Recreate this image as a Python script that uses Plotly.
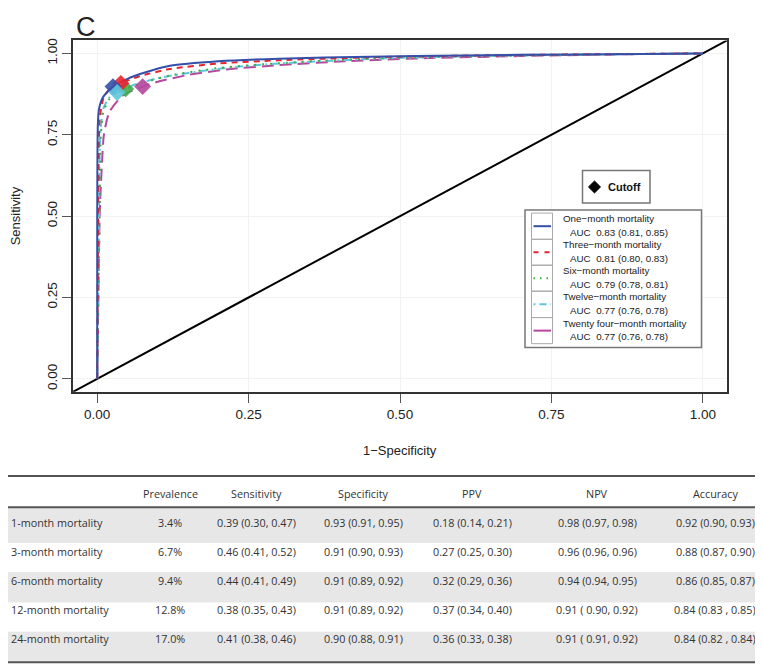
import plotly.graph_objects as go

# ---------------- data ----------------
series_names = ["One\u2212month mortality", "Three\u2212month mortality", "Six\u2212month mortality",
                "Twelve\u2212month mortality", "Twenty four\u2212month mortality"]
auc_labels = ["AUC  0.83 (0.81, 0.85)", "AUC  0.81 (0.80, 0.83)", "AUC  0.79 (0.78, 0.81)",
              "AUC  0.77 (0.76, 0.78)", "AUC  0.77 (0.76, 0.78)"]

fpr_1m = [0, 0.0, 0.001, 0.003, 0.010, 0.026, 0.050, 0.080, 0.120, 0.200, 0.300, 0.450, 0.600, 0.800, 1.0]
tpr_1m = [0, 0.50, 0.780, 0.830, 0.867, 0.898, 0.922, 0.942, 0.962, 0.976, 0.984, 0.990, 0.994, 0.997, 1.0]

fpr_3m = [0, 0.002, 0.004, 0.010, 0.020, 0.039, 0.070, 0.120, 0.200, 0.300, 0.450, 0.600, 0.800, 1.0]
tpr_3m = [0, 0.600, 0.800, 0.860, 0.890, 0.908, 0.930, 0.952, 0.969, 0.979, 0.988, 0.993, 0.997, 1.0]

fpr_6m = [0, 0.004, 0.006, 0.010, 0.020, 0.030, 0.047, 0.080, 0.120, 0.200, 0.300, 0.450, 0.600, 0.800, 1.0]
tpr_6m = [0, 0.500, 0.750, 0.820, 0.860, 0.878, 0.891, 0.912, 0.932, 0.955, 0.970, 0.984, 0.991, 0.997, 1.0]

fpr_12m = [0, 0.003, 0.005, 0.010, 0.020, 0.033, 0.060, 0.100, 0.150, 0.220, 0.300, 0.450, 0.600, 0.800, 1.0]
tpr_12m = [0, 0.500, 0.750, 0.830, 0.865, 0.880, 0.903, 0.924, 0.940, 0.957, 0.969, 0.983, 0.991, 0.996, 1.0]

fpr_24m = [0, 0.002, 0.004, 0.008, 0.011, 0.020, 0.043, 0.075, 0.100, 0.150, 0.220, 0.300, 0.400, 0.550, 0.700, 0.850, 1.0]
tpr_24m = [0, 0.260, 0.500, 0.668, 0.750, 0.820, 0.872, 0.898, 0.913, 0.934, 0.952, 0.964, 0.975, 0.986, 0.992, 0.997, 1.0]

cutoff_fpr = [0.026, 0.039, 0.047, 0.033, 0.075]
cutoff_tpr = [0.898, 0.908, 0.891, 0.880, 0.898]

x_ticks = [0, 0.25, 0.5, 0.75, 1.0]
y_ticks = [0, 0.25, 0.5, 0.75, 1.0]

table_header = ["", "Prevalence", "Sensitivity", "Specificity", "PPV", "NPV", "Accuracy"]
row_labels = ["1-month mortality", "3-month mortality", "6-month mortality", "12-month mortality", "24-month mortality"]
prevalence = ["3.4%", "6.7%", "9.4%", "12.8%", "17.0%"]
sensitivity = ["0.39 (0.30, 0.47)", "0.46 (0.41, 0.52)", "0.44 (0.41, 0.49)", "0.38 (0.35, 0.43)", "0.41 (0.38, 0.46)"]
specificity = ["0.93 (0.91, 0.95)", "0.91 (0.90, 0.93)", "0.91 (0.89, 0.92)", "0.91 (0.89, 0.92)", "0.90 (0.88, 0.91)"]
ppv = ["0.18 (0.14, 0.21)", "0.27 (0.25, 0.30)", "0.32 (0.29, 0.36)", "0.37 (0.34, 0.40)", "0.36 (0.33, 0.38)"]
npv = ["0.98 (0.97, 0.98)", "0.96 (0.96, 0.96)", "0.94 (0.94, 0.95)", "0.91 ( 0.90, 0.92)", "0.91 ( 0.91, 0.92)"]
accuracy = ["0.92 (0.90, 0.93)", "0.88 (0.87, 0.90)", "0.86 (0.85, 0.87)", "0.84 (0.83 , 0.85)", "0.84 (0.82 , 0.84)"]

# ---------------- styles ----------------
colors = ["#3450a8", "#e8232b", "#3fae4a", "#5fc6dc", "#b5479d"]
dashes = ["solid", "6px,5px", "2px,6px", "8px,4px,2px,4px", "12px,6px"]
legend_dashes = ["solid", "5px,6px", "1.5px,5px", "2px,4px,7px,4px", "solid"]

# the page body has an 8px margin: the figure sits at (8, 8) in the window
OX, OY = 8, 8
W, H = 763 - OX, 668 - OY


def px(x):
    return (x - OX) / W


def py(y):
    return 1 - (y - OY) / H


fig = go.Figure()

# diagonal reference line
fig.add_trace(go.Scatter(x=[-0.04, 1.04], y=[-0.04, 1.04], mode="lines",
                         line=dict(color="black", width=2), hoverinfo="skip", showlegend=False))

curves = [(fpr_1m, tpr_1m), (fpr_3m, tpr_3m), (fpr_6m, tpr_6m), (fpr_12m, tpr_12m), (fpr_24m, tpr_24m)]
for i in reversed(range(5)):
    fx, fy = curves[i]
    fig.add_trace(go.Scatter(x=fx, y=fy, mode="lines", name=series_names[i],
                             line=dict(color=colors[i], width=2, dash=dashes[i], shape="spline", smoothing=0.6),
                             showlegend=False))

for i in [4, 2, 1, 0, 3]:
    fig.add_trace(go.Scatter(x=[cutoff_fpr[i]], y=[cutoff_tpr[i]], mode="markers",
                             marker=dict(symbol="diamond", size=13, color=colors[i], opacity=0.9),
                             showlegend=False))

tick_font = dict(family="Liberation Sans, Arial, sans-serif", size=13.5, color="#222")
fig.update_xaxes(range=[-0.04, 1.04], domain=[px(73), px(727)], showline=True, mirror=True,
                 linecolor="#333", linewidth=1.5, ticks="outside", ticklen=9, tickcolor="#555",
                 tickwidth=1, tickvals=x_ticks, tickformat=".2f", tickfont=tick_font,
                 showgrid=True, gridcolor="#f2f2f2", zeroline=False)
fig.update_yaxes(range=[-0.04, 1.04], domain=[py(391), py(38.5)], showline=True, mirror=True,
                 linecolor="#333", linewidth=1.5, ticks="outside", ticklen=9, tickcolor="#555",
                 tickwidth=1, tickvals=y_ticks, tickformat=".2f", tickfont=tick_font, tickangle=-90,
                 showgrid=True, gridcolor="#f2f2f2", zeroline=False)

shapes = []
ann = []


def text(x, y, s, font, xanchor="center", angle=0, yanchor="middle"):
    ann.append(dict(x=px(x), y=py(y), xref="paper", yref="paper", text=s, showarrow=False,
                    xanchor=xanchor, yanchor=yanchor, textangle=angle, font=font))


# axis titles and panel letter
text(400, 450, "1\u2212Specificity", dict(family="Liberation Sans, Arial", size=13, color="#222"))
text(15, 215, "Sensitivity", dict(family="Liberation Sans, Arial", size=13, color="#222"), angle=-90)
text(86, 8, "C", dict(family="Liberation Sans, Arial", size=27, color="#222"), yanchor="top")

# Cutoff legend box
shapes.append(dict(type="rect", xref="paper", yref="paper", x0=px(582.5), x1=px(650), y0=py(169), y1=py(201.5),
                   line=dict(color="#777", width=1.5), fillcolor="white"))
cx, cy, d = 594.5, 185.5, 6
shapes.append(dict(type="path", xref="paper", yref="paper",
                   path=f"M {px(cx)},{py(cy-d)} L {px(cx+d)},{py(cy)} L {px(cx)},{py(cy+d)} L {px(cx-d)},{py(cy)} Z",
                   fillcolor="black", line=dict(color="black", width=1)))
text(606, 185.5, "<b>Cutoff</b>", dict(family="Liberation Sans, Arial", size=11, color="#111"), xanchor="left")

# Series legend box
shapes.append(dict(type="rect", xref="paper", yref="paper", x0=px(525), x1=px(701.5), y0=py(208.5), y1=py(346.5),
                   line=dict(color="#777", width=1.5), fillcolor="white"))
row_edges = [211.7, 238.0, 264.0, 290.0, 316.5, 342.7]
lfont = dict(family="Liberation Sans, Arial", size=9.8, color="#222")
for i in range(5):
    shapes.append(dict(type="rect", xref="paper", yref="paper", x0=px(531.5), x1=px(552.5),
                       y0=py(row_edges[i]), y1=py(row_edges[i + 1]), line=dict(color="#aaa", width=1)))
    ly = (row_edges[i] + row_edges[i + 1]) / 2
    shapes.append(dict(type="line", xref="paper", yref="paper", x0=px(533.5), x1=px(551), y0=py(ly), y1=py(ly),
                       line=dict(color=colors[i], width=2, dash=legend_dashes[i])))
    ty = row_edges[i] + 5.5
    text(561, ty, series_names[i], lfont, xanchor="left")
    text(568, ty + 13.5, auc_labels[i], lfont, xanchor="left")

# ---------------- table ----------------
tfont = dict(family="Open Sans", size=10.8, color="#333")
band_edges = [506.7, 542.7, 571.7, 602.3, 631.7, 661.7]
text_y = [521.7, 551.0, 580.0, 609.0, 638.3]
for i in [0, 2, 4]:
    shapes.append(dict(type="rect", xref="paper", yref="paper", x0=px(8), x1=px(758),
                       y0=py(band_edges[i]), y1=py(band_edges[i + 1]), fillcolor="#e7e7e7", line=dict(width=0),
                       layer="below"))
for yy in [475.5, 506.7, 662.3]:
    shapes.append(dict(type="line", xref="paper", yref="paper", x0=px(8), x1=px(758), y0=py(yy), y1=py(yy),
                       line=dict(color="#555", width=2)))

col_x = [9, 170, 257, 363, 472, 597, 715]
for j, h in enumerate(table_header):
    if h:
        text(col_x[j], 492.7, h, tfont)
columns = [prevalence, sensitivity, specificity, ppv, npv, accuracy]
for i in range(5):
    text(col_x[0], text_y[i], row_labels[i], tfont, xanchor="left")
    for j, col in enumerate(columns):
        text(col_x[j + 1], text_y[i], col[i], tfont)

fig.update_layout(width=W, height=H, margin=dict(l=0, r=0, t=0, b=0), plot_bgcolor="white",
                  paper_bgcolor="white", shapes=shapes, annotations=ann, showlegend=False)

fig.write_html("out.html")
